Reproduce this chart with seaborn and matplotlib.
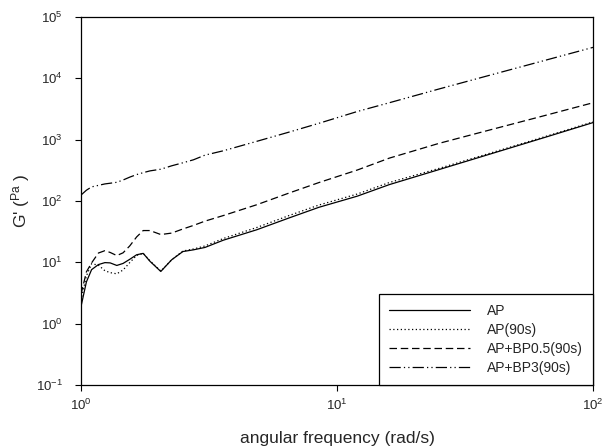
import numpy as np
import pandas as pd
import seaborn as sns
import matplotlib.pyplot as plt

# angular frequency (rad/s), common grid
freq = [1.0, 1.05, 1.1, 1.17, 1.24, 1.3, 1.38, 1.46, 1.55, 1.65, 1.75, 1.86,
        2.05, 2.26, 2.5, 2.75, 3.05, 3.6, 4.86, 6.5, 8.5, 12, 16, 25, 40, 63, 100]

# G' (Pa) for each sample
g_ap = [1.9, 4.8, 7.6, 9.2, 9.9, 9.8, 8.9, 9.6, 11.2, 13.3, 14.0, 10.4,
        7.1, 11, 15, 16, 17.5, 23, 34, 53, 79, 120, 185, 325, 590, 1050, 1900]
g_ap90 = [2.4, 6.0, 9.5, 9.0, 7.3, 6.8, 6.5, 7.5, 9.9, 13.0, 14.0, 10.6,
          7.2, 11, 15.3, 16.5, 18.5, 24.5, 37, 58, 86, 130, 200, 340, 610, 1080, 1950]
g_bp05 = [3.0, 7.0, 9.8, 14.2, 15.5, 14.5, 12.9, 14.3, 18.5, 26, 33, 33,
          28.4, 30, 35, 40, 47, 58, 87, 135, 200, 320, 500, 870, 1460, 2400, 4000]
g_bp3 = [125, 150, 170, 180, 190, 195, 202, 220, 245, 270, 290, 310,
         330, 375, 420, 470, 560, 660, 940, 1330, 1850, 2880, 4000, 6700, 11400, 19000, 32000]

labels = ["AP", "AP(90s)", "AP+BP0.5(90s)", "AP+BP3(90s)"]
dash_styles = {"AP": "", "AP(90s)": (1, 2), "AP+BP0.5(90s)": (6, 3),
               "AP+BP3(90s)": (9, 2.5, 1, 2.5, 1, 2.5)}

xticks = [1, 10, 100]
yticks = [0.1, 1, 10, 100, 1e3, 1e4, 1e5]

df = pd.concat([
    pd.DataFrame({"freq": freq, "G": g, "sample": lab})
    for g, lab in zip([g_ap, g_ap90, g_bp05, g_bp3], labels)
])

sns.set_style("ticks")
plt.rcParams['font.family'] = ['Liberation Sans', 'DejaVu Sans']
plt.rcParams['mathtext.fontset'] = 'custom'
plt.rcParams['mathtext.rm'] = 'Liberation Sans'
plt.rcParams['mathtext.it'] = 'Liberation Sans:italic'
plt.rcParams['mathtext.bf'] = 'Liberation Sans:bold'

fig = plt.figure(figsize=(6.14, 4.48), dpi=100)
ax = fig.add_axes([0.1319, 0.1406, 0.8339, 0.8214])

sns.lineplot(data=df, x="freq", y="G", style="sample", dashes=dash_styles,
             color="black", linewidth=0.9, ax=ax, sort=False)

ax.set_xscale("log")
ax.set_yscale("log")
ax.set_xticks(xticks)
ax.set_yticks(yticks)
ax.set_xlim(1, 100)
ax.set_ylim(0.1, 1e5)
ax.minorticks_off()
ax.tick_params(direction="out", length=4, width=0.8, labelsize=9.5,
               top=False, right=False, color="black")
ax.tick_params(axis="y", pad=9)
ax.tick_params(axis="x", pad=5)
for s in ax.spines.values():
    s.set_visible(True)
    s.set_color("black")
    s.set_linewidth(0.9)

ax.set_xlabel("angular frequency (rad/s)", fontsize=12.5, labelpad=13)
ax.set_ylabel(r"G' ($^{\mathrm{Pa}}$ )", fontsize=12.5, labelpad=3)

leg = ax.legend(loc="lower right", borderaxespad=0, fontsize=10,
                handlelength=5.8, handletextpad=1.2, labelspacing=0.35,
                borderpad=0.75, fancybox=False, framealpha=1, edgecolor="black")
leg.get_frame().set_linewidth(0.9)
for h in leg.get_lines():
    h.set_linewidth(0.9)

fig.savefig("out.png", dpi=100)
